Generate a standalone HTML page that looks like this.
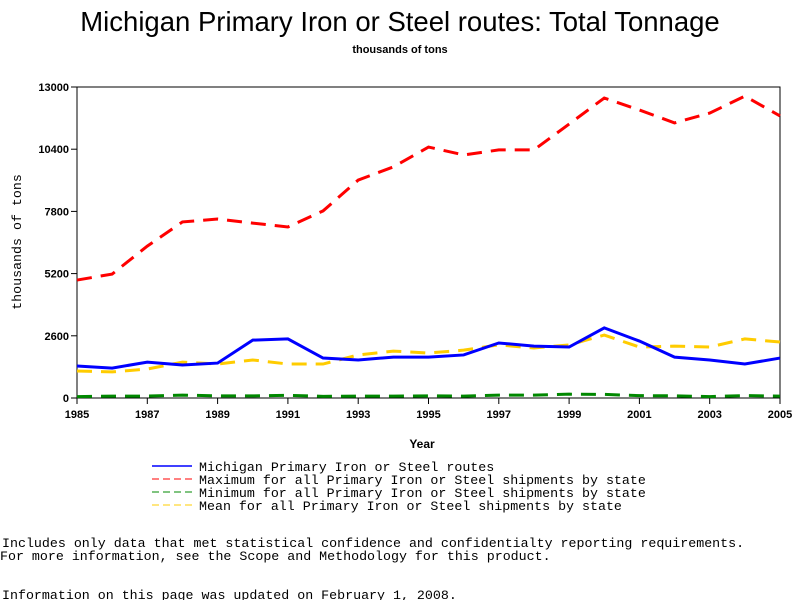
<!DOCTYPE html>
<html><head><meta charset="utf-8"><style>
body{margin:0;background:#fff;width:800px;height:600px;overflow:hidden;font-family:"Liberation Sans",sans-serif}
svg{display:block}
.mono{font-family:"Liberation Mono",monospace;font-size:13.3px}
</style></head><body>
<svg id="chart" width="800" height="600">
<text x="400" y="31" text-anchor="middle" font-size="27.5">Michigan Primary Iron or Steel routes: Total Tonnage</text>
<text x="400" y="53" text-anchor="middle" font-size="11" font-weight="bold">thousands of tons</text>
<rect x="77" y="87" width="703" height="311" fill="none" stroke="#000" stroke-width="1"/>
<g id="yticks"></g><g id="xticks"></g><g id="series"></g>
<text x="422" y="448" text-anchor="middle" font-size="12" font-weight="bold">Year</text>
<text transform="translate(21,242) rotate(-90)" text-anchor="middle" class="mono" font-size="12">thousands of tons</text>
<g class="mono">
<line x1="152" y1="466" x2="192" y2="466" stroke="#00f" stroke-width="1.5"/>
<text x="199" y="471">Michigan Primary Iron or Steel routes</text>
<line x1="152" y1="479" x2="192" y2="479" stroke="#f00" stroke-dasharray="7,4"/>
<text x="199" y="484">Maximum for all Primary Iron or Steel shipments by state</text>
<line x1="152" y1="492" x2="192" y2="492" stroke="#080" stroke-dasharray="7,4"/>
<text x="199" y="497">Minimum for all Primary Iron or Steel shipments by state</text>
<line x1="152" y1="505" x2="192" y2="505" stroke="#fc0" stroke-dasharray="7,4"/>
<text x="199" y="510">Mean for all Primary Iron or Steel shipments by state</text>
</g>
<text x="2" y="547" class="mono">Includes only data that met statistical confidence and confidentialty reporting requirements.</text>
<text x="0" y="560" class="mono">For more information, see the Scope and Methodology for this product.</text>
<text x="2" y="599" class="mono">Information on this page was updated on February 1, 2008.</text>
</svg>
<script>
const years=[1985,1986,1987,1988,1989,1990,1991,1992,1993,1994,1995,1996,1997,1998,1999,2000,2001,2002,2003,2004,2005];
const michigan=[1340,1250,1500,1380,1460,2420,2470,1670,1590,1710,1710,1800,2300,2170,2130,2930,2380,1710,1590,1420,1670];
const maximum=[4930,5180,6350,7360,7480,7310,7150,7820,9110,9660,10490,10160,10370,10370,11450,12540,12040,11500,11910,12620,11790];
const minimum=[60,80,80,120,90,90,110,70,80,80,90,80,120,120,160,150,100,90,60,100,80];
const mean=[1130,1090,1210,1500,1420,1590,1420,1420,1800,1960,1880,2000,2220,2090,2220,2630,2130,2170,2130,2470,2340];
const yTicks=[0,2600,5200,7800,10400,13000];
const xTickLabels=[1985,1987,1989,1991,1993,1995,1997,1999,2001,2003,2005];
const NS='http://www.w3.org/2000/svg';
const X0=77,X1=780,Y0=398,Y1=87;
const xs=y=>X0+(y-years[0])/(years[years.length-1]-years[0])*(X1-X0);
const ys=v=>Y0-v/13000*(Y0-Y1);
function mk(tag,attrs,parent){const e=document.createElementNS(NS,tag);for(const k in attrs)e.setAttribute(k,attrs[k]);parent.appendChild(e);return e;}
const yt=document.getElementById('yticks');
yTicks.forEach(v=>{
 const l=mk('line',{x1:X0-6,x2:X0,y1:ys(v),y2:ys(v),stroke:'#000'},yt);
 
 
 const t=mk('text',{x:X0-8,y:ys(v)+4,'text-anchor':'end','font-size':11,'font-weight':'bold'},yt);
 t.textContent=v;
 
 
});
const xt=document.getElementById('xticks');
xTickLabels.forEach(v=>{
 const l=mk('line',{x1:xs(v),x2:xs(v),y1:Y0,y2:Y0+6,stroke:'#000'},xt);
 
 
 const t=mk('text',{x:xs(v),y:Y0+20,'text-anchor':'middle','font-size':11,'font-weight':'bold'},xt);
 t.textContent=v;
 
 
});
const sg=document.getElementById('series');
function line(data,color,dash,w,name){
 const p=mk('polyline',{points:data.map((v,i)=>xs(years[i])+','+ys(v)).join(' '),fill:'none',stroke:color,'stroke-width':w,'stroke-dasharray':dash||'none'},sg);
 
 
}
line(minimum,'#080','15,9',3,'line-minimum');
line(mean,'#fc0','15,9',3,'line-mean');
line(maximum,'#f00','15,9',3,'line-maximum');
line(michigan,'#00f','',3,'line-michigan');
</script>
</body></html>
